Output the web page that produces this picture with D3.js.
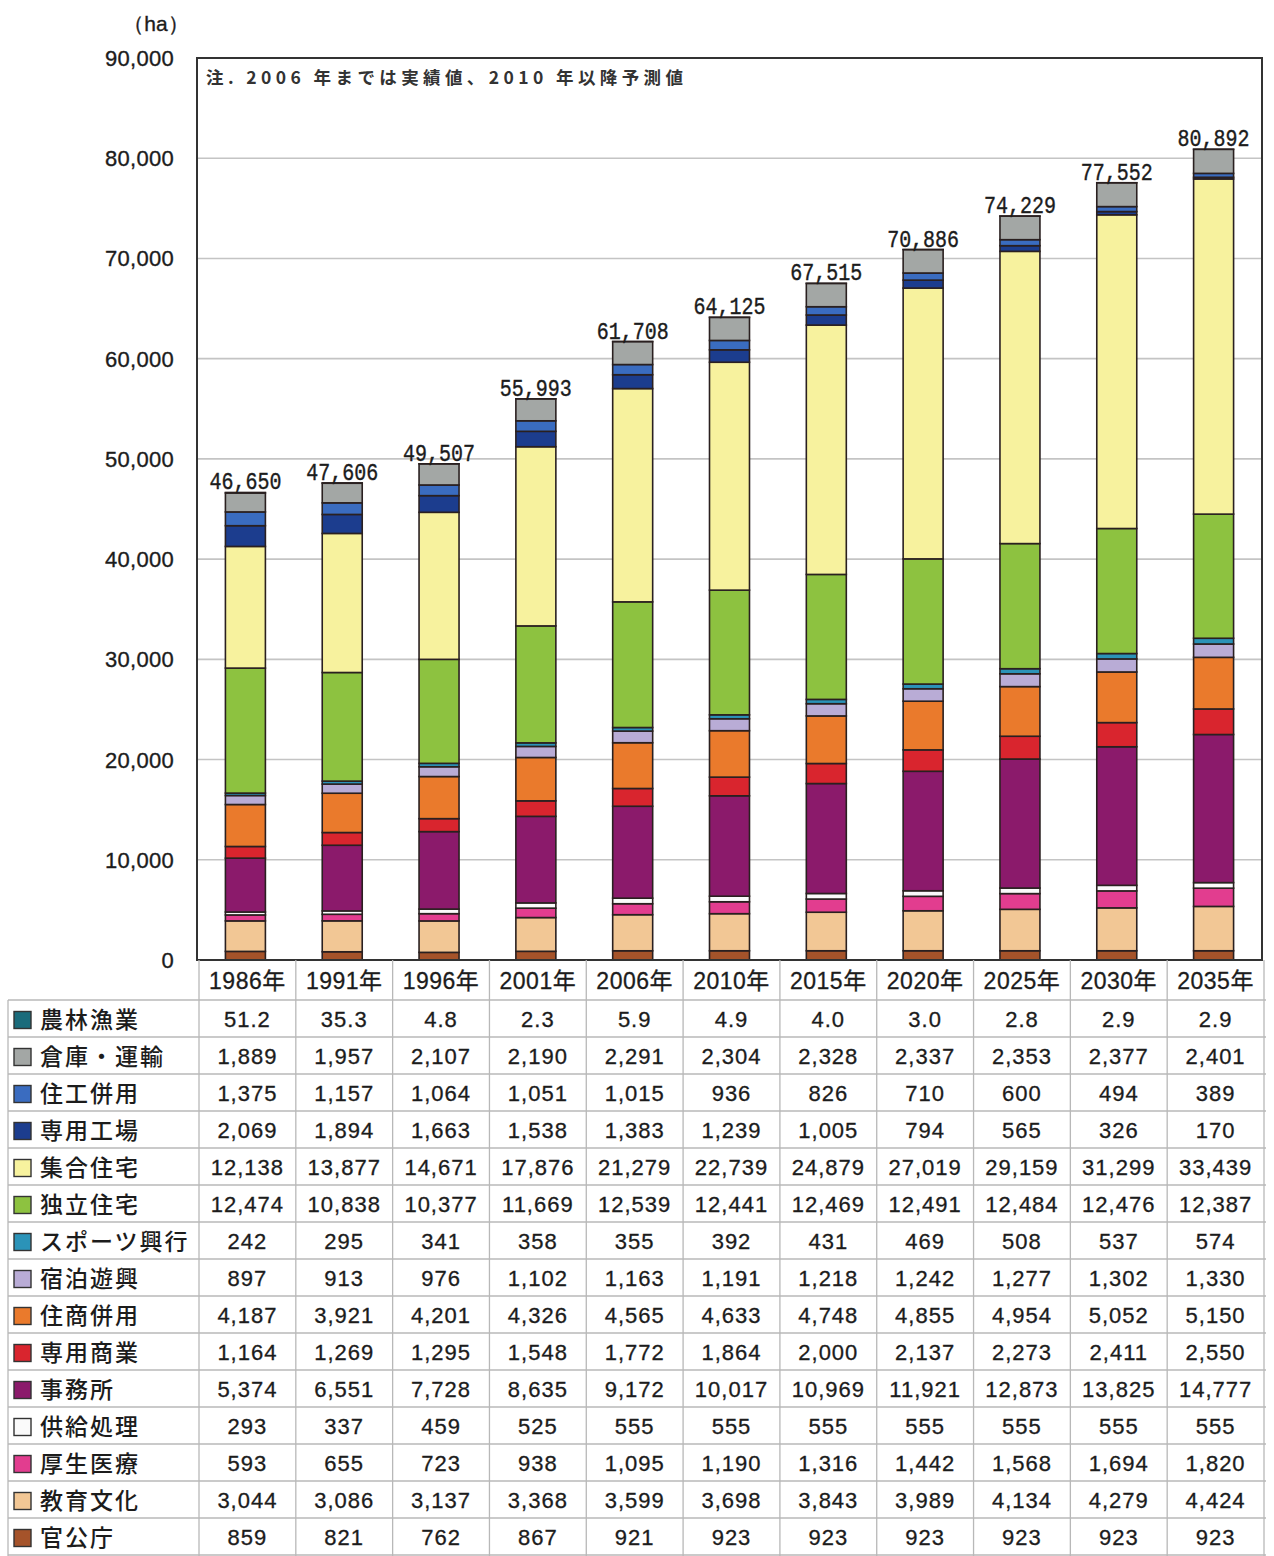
<!DOCTYPE html>
<html lang="ja">
<head>
<meta charset="utf-8">
<script src="https://cdn.jsdelivr.net/npm/d3@7"></script>
<style>
  html, body { margin: 0; padding: 0; background: #fff; }
  svg { display: block; }
</style>
</head>
<body>
<svg id="chart" width="1274" height="1556"></svg>
<script>
// Years shown on the x axis / table header
const years = ["1986年","1991年","1996年","2001年","2006年","2010年","2015年","2020年","2025年","2030年","2035年"];

// Land-use categories, in table order (top of stack first)
const categories = ["農林漁業","倉庫・運輸","住工併用","専用工場","集合住宅","独立住宅","スポーツ興行","宿泊遊興","住商併用","専用商業","事務所","供給処理","厚生医療","教育文化","官公庁"];

// Area (ha) per category and year
const agriculture   = [51.2, 35.3, 4.8, 2.3, 5.9, 4.9, 4.0, 3.0, 2.8, 2.9, 2.9];
const warehouse     = [1889, 1957, 2107, 2190, 2291, 2304, 2328, 2337, 2353, 2377, 2401];
const mixedIndust   = [1375, 1157, 1064, 1051, 1015, 936, 826, 710, 600, 494, 389];
const factory       = [2069, 1894, 1663, 1538, 1383, 1239, 1005, 794, 565, 326, 170];
const apartment     = [12138, 13877, 14671, 17876, 21279, 22739, 24879, 27019, 29159, 31299, 33439];
const detached      = [12474, 10838, 10377, 11669, 12539, 12441, 12469, 12491, 12484, 12476, 12387];
const sports        = [242, 295, 341, 358, 355, 392, 431, 469, 508, 537, 574];
const lodging       = [897, 913, 976, 1102, 1163, 1191, 1218, 1242, 1277, 1302, 1330];
const mixedCommerce = [4187, 3921, 4201, 4326, 4565, 4633, 4748, 4855, 4954, 5052, 5150];
const commerce      = [1164, 1269, 1295, 1548, 1772, 1864, 2000, 2137, 2273, 2411, 2550];
const office        = [5374, 6551, 7728, 8635, 9172, 10017, 10969, 11921, 12873, 13825, 14777];
const utility       = [293, 337, 459, 525, 555, 555, 555, 555, 555, 555, 555];
const medical       = [593, 655, 723, 938, 1095, 1190, 1316, 1442, 1568, 1694, 1820];
const education     = [3044, 3086, 3137, 3368, 3599, 3698, 3843, 3989, 4134, 4279, 4424];
const government    = [859, 821, 762, 867, 921, 923, 923, 923, 923, 923, 923];

const seriesValues = [agriculture, warehouse, mixedIndust, factory, apartment, detached, sports, lodging,
  mixedCommerce, commerce, office, utility, medical, education, government];

// Totals printed above each bar
const totals = [46650, 47606, 49507, 55993, 61708, 64125, 67515, 70886, 74229, 77552, 80892];

// Y axis tick values
const yTicks = [0, 10000, 20000, 30000, 40000, 50000, 60000, 70000, 80000, 90000];

const note = "注. 2006 年までは実績値、2010 年以降予測値";

const colors = ["#1a6b7b","#a3a7a5","#3a6cc0","#1c3d8e","#f7f29e","#8dc240","#2b93b8","#b9acd6",
  "#ea7a2c","#d9252e","#8b1a6b","#fafafa","#e23d8f","#f2c795","#a5532a"];

const ink = "#1c1c1c";

// ---- layout
const svg = d3.select("#chart");
const plot = { left: 197, right: 1262, top: 58, bottom: 960 };
const tbl = { left: 8, right: 1266, headerBottom: 1000, rowH: 37.0 };

const x = d3.scaleBand().domain(years).range([plot.left, plot.right])
  .paddingInner(0.587).paddingOuter(0.2935);
const y = d3.scaleLinear().domain([0, 90000]).range([plot.bottom, plot.top]);
const step = x.step();

// rows for stacking: one record per year
const rows = years.map((yr, i) => {
  const r = { year: yr };
  categories.forEach((c, k) => { r[c] = seriesValues[k][i]; });
  return r;
});
// stack from bottom (官公庁) to top (農林漁業)
const stackKeys = categories.slice().reverse();
const stacked = d3.stack().keys(stackKeys)(rows);
const colorOf = d3.scaleOrdinal().domain(categories).range(colors);

// gridlines
svg.append("g").selectAll("line").data(yTicks.filter(t => t > 0 && t < 90000)).join("line")
  .attr("x1", plot.left).attr("x2", plot.right)
  .attr("y1", d => y(d)).attr("y2", d => y(d))
  .attr("stroke", "#c4c4c4").attr("stroke-width", 1.6);

// y axis labels
svg.append("g").selectAll("text").data(yTicks).join("text")
  .attr("x", 174).attr("y", d => y(d) + 8)
  .attr("text-anchor", "end")
  .attr("font-family", "'Liberation Sans', Arial, sans-serif")
  .attr("font-size", 22).attr("letter-spacing", 0.3).attr("fill", ink)
  .attr("stroke", ink).attr("stroke-width", 0.35)
  .text(d => d3.format(",")(d));

svg.append("text").attr("x", 156).attr("y", 31).attr("text-anchor", "middle")
  .attr("font-family", "'Liberation Sans', Arial, sans-serif").attr("font-size", 21).attr("fill", ink)
  .attr("stroke", ink).attr("stroke-width", 0.35)
  .text("（ha）");

// stacked bars
const layers = svg.append("g").selectAll("g").data(stacked).join("g")
  .attr("fill", d => colorOf(d.key));
layers.selectAll("rect").data(d => d).join("rect")
  .attr("x", d => x(d.data.year))
  .attr("width", x.bandwidth())
  .attr("y", d => y(d[1]))
  .attr("height", d => y(d[0]) - y(d[1]))
  .attr("stroke", "#2a2020").attr("stroke-width", 1.6);

// total labels
const topOf = years.map((yr, i) => stacked[stacked.length - 1][i][1]);
svg.append("g").selectAll("text").data(totals).join("text")
  .attr("x", (d, i) => x(years[i]) + x.bandwidth() / 2)
  .attr("y", (d, i) => y(topOf[i]) - 3)
  .attr("text-anchor", "middle")
  .attr("font-family", "'Liberation Mono', 'DejaVu Sans Mono', monospace")
  .attr("font-size", 24).attr("fill", ink)
  .attr("stroke", ink).attr("stroke-width", 0.4)
  .attr("textLength", 72).attr("lengthAdjust", "spacingAndGlyphs")
  .text(d => d3.format(",")(d));

// plot frame
svg.append("rect")
  .attr("x", plot.left).attr("y", plot.top)
  .attr("width", plot.right - plot.left).attr("height", plot.bottom - plot.top)
  .attr("fill", "none").attr("stroke", "#333").attr("stroke-width", 2);

// note
svg.append("text").attr("x", 206).attr("y", 84)
  .attr("font-family", "'Noto Sans CJK JP', sans-serif").attr("font-weight", 700)
  .attr("font-size", 17.5).attr("fill", "#333")
  .attr("textLength", 477).attr("lengthAdjust", "spacing")
  .text(note);

// ---- data table
const table = svg.append("g");
const gridColor = "#b8b8b8";
const nRows = categories.length;
const rowTop = i => tbl.headerBottom + i * tbl.rowH;

// horizontal lines
table.selectAll("line.h").data(d3.range(nRows + 1)).join("line").attr("class", "h")
  .attr("x1", tbl.left).attr("x2", tbl.right)
  .attr("y1", d => rowTop(d)).attr("y2", d => rowTop(d))
  .attr("stroke", gridColor).attr("stroke-width", 1.3);
// vertical lines (column boundaries)
const colEdges = d3.range(years.length + 1).map(k => plot.left + 2 + k * step);
table.selectAll("line.v").data(colEdges).join("line").attr("class", "v")
  .attr("x1", d => Math.min(d, tbl.right)).attr("x2", d => Math.min(d, tbl.right))
  .attr("y1", plot.bottom).attr("y2", 1556)
  .attr("stroke", gridColor).attr("stroke-width", 1.3);
table.append("line")
  .attr("x1", tbl.left).attr("x2", tbl.left).attr("y1", tbl.headerBottom).attr("y2", 1556)
  .attr("stroke", gridColor).attr("stroke-width", 1.3);

// header years
table.selectAll("text.yr").data(years).join("text").attr("class", "yr")
  .attr("x", d => x(d) + x.bandwidth() / 2 + 2)
  .attr("y", 989)
  .attr("text-anchor", "middle")
  .attr("font-family", "'Liberation Sans', 'Noto Sans CJK JP', sans-serif")
  .attr("font-size", 23).attr("letter-spacing", 0.5).attr("fill", ink)
  .attr("stroke", ink).attr("stroke-width", 0.3)
  .text(d => d);

// legend column
const legendRows = table.selectAll("g.lg").data(categories).join("g").attr("class", "lg")
  .attr("transform", (d, i) => `translate(0,${rowTop(i) + tbl.rowH / 2})`);
legendRows.append("rect")
  .attr("x", 14).attr("y", -7).attr("width", 17).attr("height", 17)
  .attr("fill", d => colorOf(d)).attr("stroke", "#333").attr("stroke-width", 1.4);
legendRows.append("text")
  .attr("x", 40).attr("y", 9)
  .attr("font-family", "'Noto Sans CJK JP', sans-serif").attr("font-weight", 500)
  .attr("font-size", 23).attr("letter-spacing", 2).attr("fill", ink)
  .text(d => d);

// values
const fmtInt = d3.format(",");
const fmtDec = d3.format(".1f");
categories.forEach((c, k) => {
  table.append("g").selectAll("text").data(seriesValues[k]).join("text")
    .attr("x", (d, i) => x(years[i]) + x.bandwidth() / 2 + 2)
    .attr("y", rowTop(k) + tbl.rowH / 2 + 8)
    .attr("text-anchor", "middle")
    .attr("font-family", "'Liberation Sans', Arial, sans-serif")
    .attr("font-size", 22).attr("letter-spacing", 1).attr("fill", ink)
    .attr("stroke", ink).attr("stroke-width", 0.3)
    .text(d => (c === "農林漁業" ? fmtDec(d) : fmtInt(d)));
});
</script>
</body>
</html>
